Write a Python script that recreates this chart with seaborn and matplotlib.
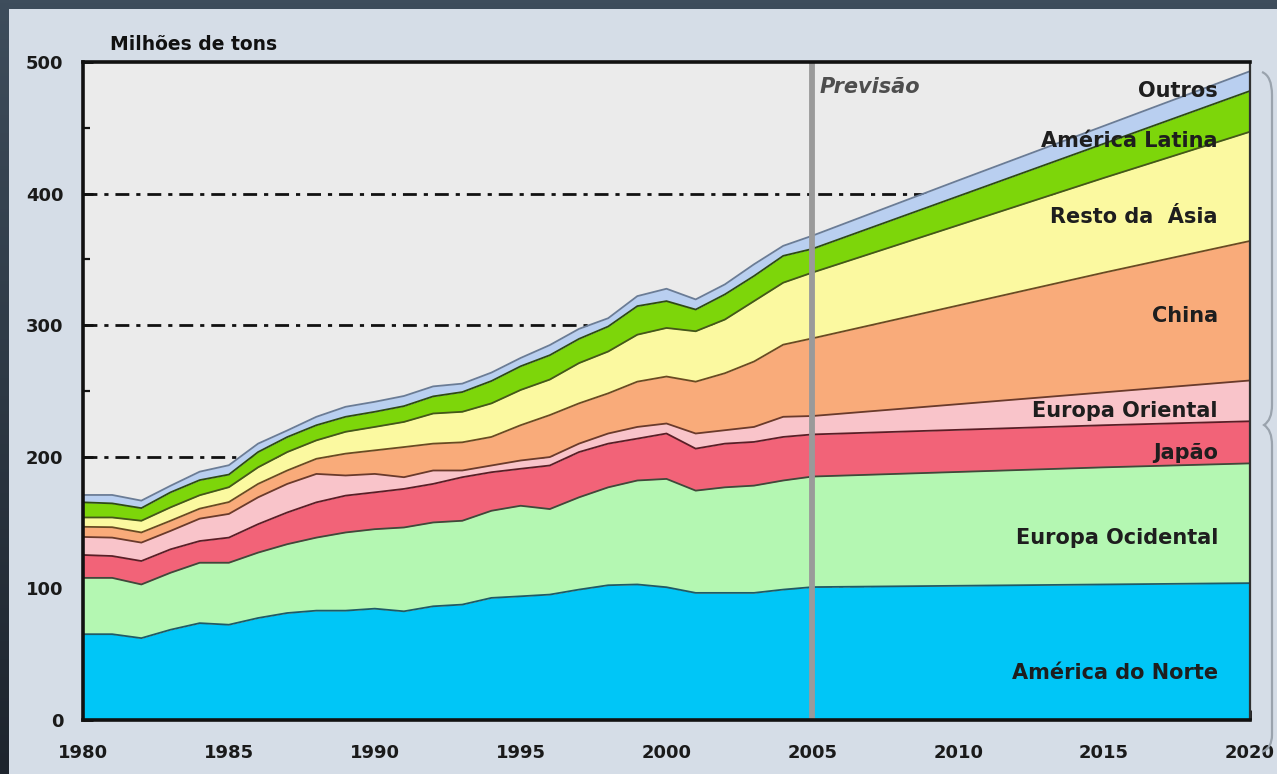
import numpy as np
import pandas as pd
import matplotlib
matplotlib.use("Agg")
import matplotlib.pyplot as plt
from matplotlib.patches import Rectangle, PathPatch
from matplotlib.path import Path
import seaborn as sns

# ---- data: consumption by region, millions of tons ----
anos = [1980, 1981, 1982, 1983, 1984, 1985, 1986, 1987, 1988, 1989,
        1990, 1991, 1992, 1993, 1994, 1995, 1996, 1997, 1998, 1999,
        2000, 2001, 2002, 2003, 2004, 2005, 2010, 2015, 2020]

america_do_norte = [65.2, 65.2, 62.2, 68.6, 73.6, 72.4, 77.5, 81.3, 83.1, 83.1,
                    84.6, 82.6, 86.4, 87.7, 92.8, 94.0, 95.3, 99.1, 102.4, 103.0,
                    100.9, 96.6, 96.6, 96.6, 99.1, 101.0, 102.0, 103.0, 104.0]
europa_ocidental = [42.8, 42.8, 40.8, 43.3, 45.9, 47.1, 49.7, 52.3, 55.5, 59.4,
                    60.4, 63.7, 63.7, 63.7, 66.2, 68.8, 65.0, 70.1, 74.4, 79.0,
                    82.3, 77.7, 80.2, 81.5, 82.9, 84.0, 86.5, 89.0, 91.0]
japao = [17.4, 16.6, 17.8, 17.8, 16.5, 19.1, 21.6, 24.1, 26.8, 28.0,
         28.0, 29.3, 29.3, 33.1, 29.3, 28.1, 33.1, 34.4, 33.2, 31.8,
         34.5, 31.9, 33.2, 33.2, 33.1, 32.0, 32.0, 32.0, 32.0]
europa_oriental = [13.7, 14.0, 14.0, 14.0, 17.0, 18.0, 20.4, 21.7, 21.6, 15.3,
                   14.0, 8.9, 10.2, 5.1, 5.1, 6.3, 6.4, 6.4, 7.7, 8.9,
                   7.6, 11.5, 10.2, 11.4, 15.3, 14.0, 19.5, 25.0, 31.0]
china = [7.7, 7.9, 7.7, 7.7, 7.6, 9.0, 10.2, 10.2, 11.5, 16.6,
         17.9, 22.9, 20.4, 21.4, 21.7, 26.8, 31.9, 30.6, 30.5, 34.4,
         35.7, 39.4, 43.3, 49.7, 54.8, 59.0, 75.0, 91.0, 106.0]
resto_da_asia = [7.1, 7.4, 8.9, 10.2, 10.2, 11.3, 12.6, 14.0, 14.0, 16.6,
                 17.8, 19.1, 22.9, 23.2, 25.5, 26.8, 27.0, 30.6, 31.8, 35.7,
                 36.9, 38.3, 40.8, 45.9, 47.1, 50.0, 61.0, 72.0, 83.0]
america_latina = [11.5, 10.7, 9.6, 11.4, 11.5, 9.6, 11.6, 11.4, 11.5, 11.4,
                  11.5, 12.0, 13.0, 15.0, 17.0, 18.0, 18.5, 18.4, 19.0, 21.7,
                  20.4, 16.5, 19.1, 19.1, 20.4, 18.0, 22.0, 26.0, 31.0]
outros = [5.6, 6.4, 5.7, 5.0, 6.4, 7.1, 6.4, 5.0, 6.4, 7.6,
          7.6, 7.7, 7.6, 6.4, 6.4, 6.3, 7.7, 7.6, 6.3, 7.6,
          9.4, 7.7, 7.6, 8.9, 7.6, 10.0, 12.0, 13.5, 15.0]

regioes = ["América do Norte", "Europa Ocidental", "Japão", "Europa Oriental",
           "China", "Resto da  Ásia", "América Latina", "Outros"]
series = [america_do_norte, europa_ocidental, japao, europa_oriental,
          china, resto_da_asia, america_latina, outros]

ticks_x = [1980, 1985, 1990, 1995, 2000, 2005, 2010, 2015, 2020]
ticks_y = [0, 100, 200, 300, 400, 500]
ano_previsao = 2005

# ---- styling ----
cores = ["#00c6f7", "#b4f7b2", "#f26378", "#f9c4ca",
         "#f9ab7a", "#fbf9a0", "#7dd60a", "#b9cff0"]
bordas = ["#1f5a66", "#3e4a3a", "#5a1e26", "#6a3a2c",
          "#6a4a22", "#45561a", "#2e4a14", "#6a7c96"]
rotulo_y = [36, 138, 203, 235, 307, 382, 440, 478]

sns.set_theme(style="ticks")
plt.rcParams["font.family"] = ["DejaVu Sans"]

W, H = 1277, 774
fig = plt.figure(figsize=(W / 100, H / 100), dpi=100)
fig.patch.set_facecolor("#2e3a47")

# dark frame gradient behind the light panel
bg = fig.add_axes([0, 0, 1, 1], zorder=-10)
grad = np.linspace(0, 1, 256)
bg.imshow(np.outer(grad, np.ones(2)), cmap=matplotlib.colors.LinearSegmentedColormap.from_list(
    "fundo", ["#3e4d5c", "#1d242d"]), aspect="auto", extent=[0, 1, 0, 1])
bg.add_patch(Rectangle((9 / W, 0), 1, 1 - 9 / H, transform=bg.transAxes,
                       facecolor="#d5dde7", edgecolor="none"))
bg.set_xlim(0, 1)
bg.set_ylim(0, 1)
bg.axis("off")

ax = fig.add_axes([83 / W, 1 - 720 / H, (1250 - 83) / W, (720 - 62) / H])
ax.set_facecolor("#ebebeb")

df = pd.DataFrame(dict(zip(regioes, series)), index=pd.Index(anos, name="ano"))
topos = df.cumsum(axis=1)

# dash-dot reference lines, hidden behind the stacked areas
for v in [100, 200, 300, 400]:
    ax.axhline(v, color="#111111", lw=2.0, ls=(0, (5, 2.5, 1.5, 2.5)), zorder=0.5)

ax.stackplot(df.index, df.T.values, colors=cores, lw=0, zorder=1)

longo = topos.reset_index().melt(id_vars="ano", var_name="regiao", value_name="topo")
sns.lineplot(data=longo, x="ano", y="topo", hue="regiao", hue_order=regioes,
             palette=bordas, lw=1.3, legend=False, ax=ax, zorder=1.5)

ax.axvline(ano_previsao, color="#9a9a9a", lw=4.2, zorder=3)
ax.text(ano_previsao + 0.25, 481, "Previsão", fontsize=15, fontstyle="italic",
        fontweight="bold", color="#4e4e4e", va="center", ha="left", zorder=4)

for nome, y in zip(regioes, rotulo_y):
    ax.text(2018.9, y, nome, fontsize=15, fontweight="bold", color="#1e1e1e",
            ha="right", va="center", zorder=4)

ax.set_xlim(1980, 2020)
ax.set_ylim(0, 500)
ax.set_xticks(ticks_x)
ax.set_xticks(range(1980, 2021), minor=True)
ax.set_yticks(ticks_y)
ax.set_yticks(range(0, 501, 50), minor=True)
ax.set_xlabel("")
ax.set_ylabel("")
ax.tick_params(axis="both", which="both", direction="in", color="#111111",
               top=False, right=False, labelsize=13, labelcolor="#1a1a1a")
ax.tick_params(axis="both", which="major", length=7, width=2)
ax.tick_params(axis="both", which="minor", length=5, width=1.6)
ax.tick_params(axis="x", which="major", pad=17)
ax.tick_params(axis="y", which="major", pad=14)
for lbl in ax.get_xticklabels() + ax.get_yticklabels():
    lbl.set_fontweight("bold")

for lado in ["left", "bottom", "top"]:
    ax.spines[lado].set_color("#111111")
    ax.spines[lado].set_linewidth(2.6)
    ax.spines[lado].set_zorder(5)
ax.spines["right"].set_color("#303030")
ax.spines["right"].set_linewidth(1.6)

fig.text(110 / W, 1 - 45 / H, "Milhões de tons", fontsize=13.5, fontweight="bold",
         color="#111111", ha="left", va="center")

# curly brace on the right edge
pts = [(1262, 72), (1272, 76), (1272, 95), (1272, 405), (1272, 420), (1264, 425),
       (1272, 430), (1272, 445), (1272, 735), (1272, 748), (1262, 752)]
codes = [Path.MOVETO, Path.CURVE3, Path.CURVE3, Path.LINETO, Path.CURVE3, Path.CURVE3,
         Path.CURVE3, Path.CURVE3, Path.LINETO, Path.CURVE3, Path.CURVE3]
chave = Path([(x / W, 1 - y / H) for x, y in pts], codes)
fig.add_artist(PathPatch(chave, transform=fig.transFigure, facecolor="none",
                         edgecolor="#9aa3ad", lw=1.6))

fig.savefig("out.png", dpi=100, facecolor=fig.get_facecolor())
